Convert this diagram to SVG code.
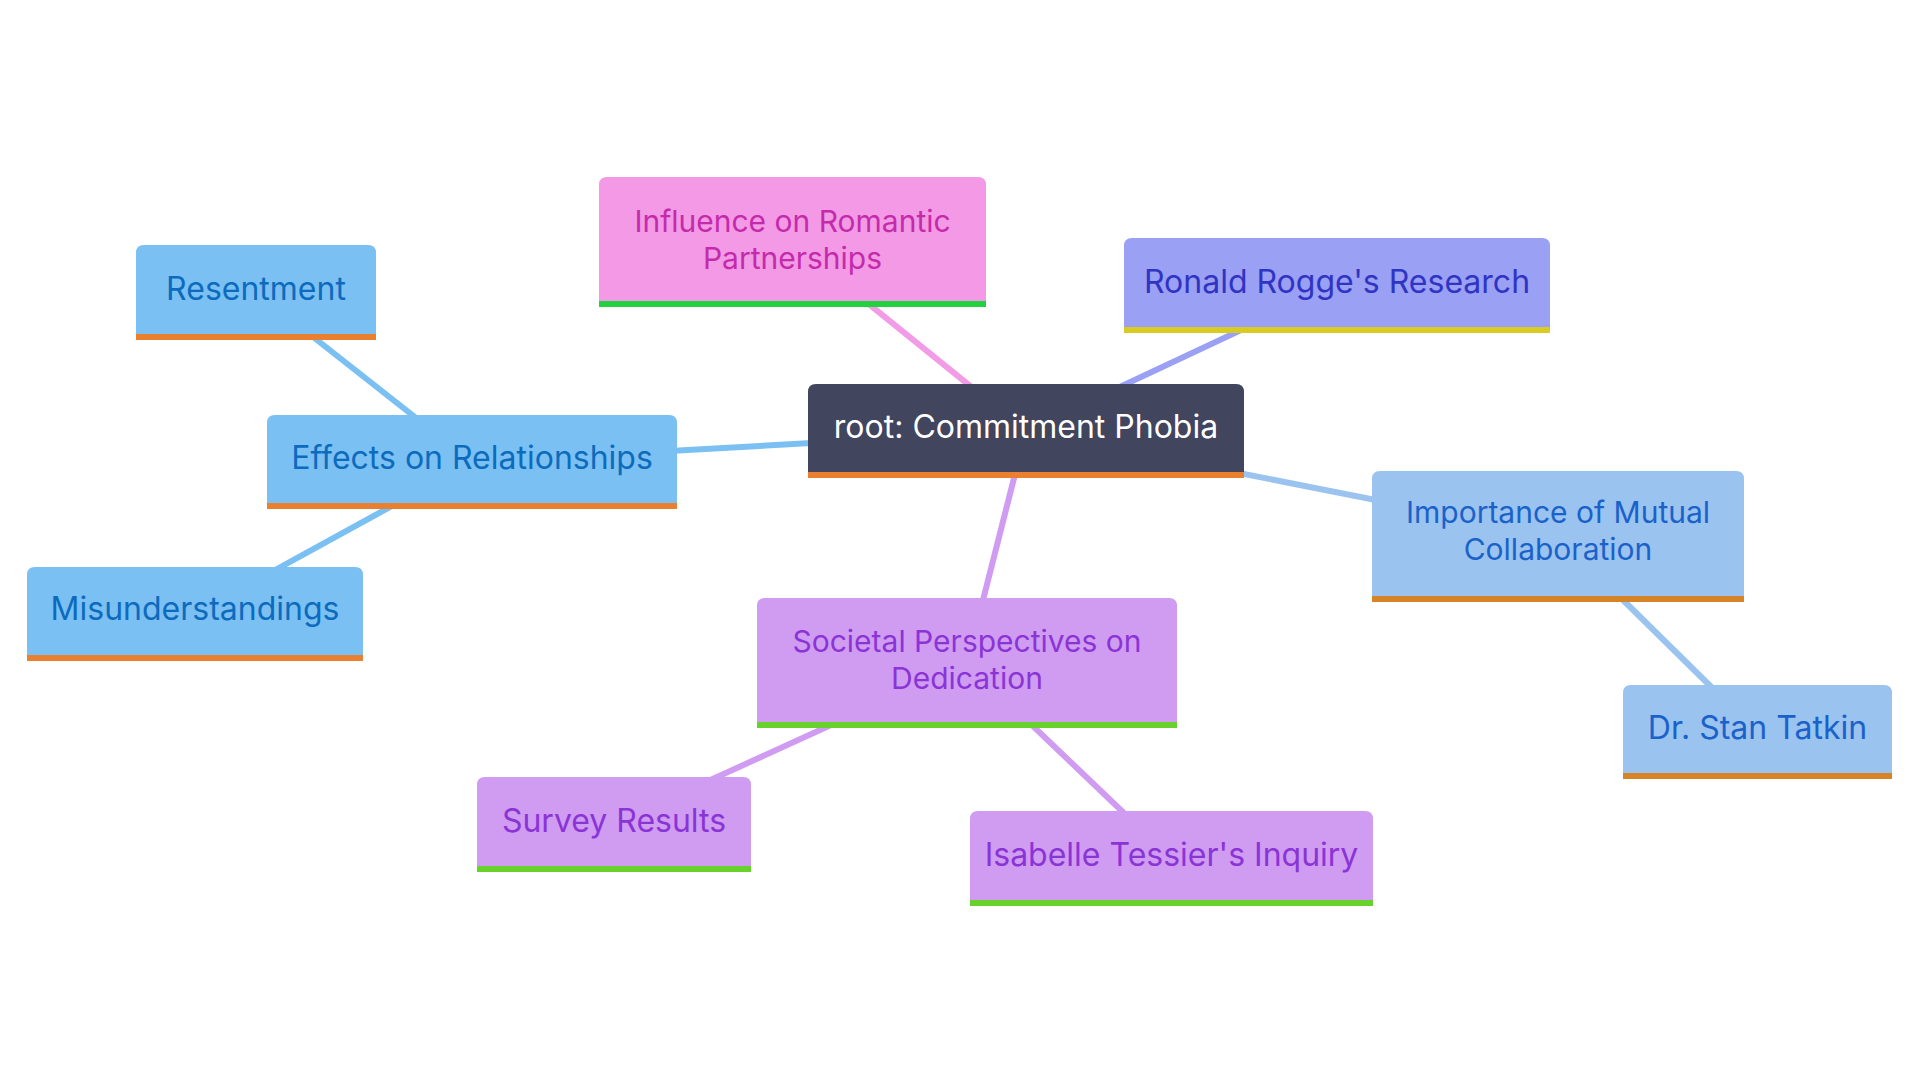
<svg xmlns="http://www.w3.org/2000/svg" width="1920" height="1080" viewBox="0 0 1920 1080">
<style>
.t{font-family:Inter,"Noto Sans","Liberation Sans",sans-serif;font-size:32px;text-anchor:middle}
.t2{font-size:30px}
.e{fill:none;stroke-width:6;stroke-linecap:butt}
</style>
<rect width="1920" height="1080" fill="#ffffff"/>
<g id="connectors">
<line class="e" x1="1026" y1="431" x2="472" y2="462" stroke="#7bc0f3"/>
<line class="e" x1="472" y1="462" x2="256" y2="292" stroke="#7bc0f3"/>
<line class="e" x1="472" y1="462" x2="195" y2="614" stroke="#7bc0f3"/>
<line class="e" x1="1026" y1="431" x2="792" y2="242" stroke="#f29be6"/>
<line class="e" x1="1026" y1="431" x2="1337" y2="285" stroke="#9aa0f3"/>
<line class="e" x1="1026" y1="431" x2="1558" y2="536" stroke="#9ac3f0"/>
<line class="e" x1="1558" y1="536" x2="1757" y2="732" stroke="#9ac3f0"/>
<line class="e" x1="1026" y1="431" x2="967" y2="663" stroke="#cf9cf2"/>
<line class="e" x1="967" y1="663" x2="614" y2="824" stroke="#cf9cf2"/>
<line class="e" x1="967" y1="663" x2="1171" y2="858" stroke="#cf9cf2"/>
</g>
<g id="root">
<path d="M808,478 V392 Q808,384 816,384 H1236 Q1244,384 1244,392 V478 Z" fill="#41455e"/>
<rect x="808" y="472" width="436" height="6" fill="#e8802f"/>
<text class="t" x="1026" y="438" fill="#ffffff">root: Commitment Phobia</text>
</g>
<g id="influence">
<path d="M599,307 V185 Q599,177 607,177 H978 Q986,177 986,185 V307 Z" fill="#f399e6"/>
<rect x="599" y="301" width="387" height="6" fill="#22d13f"/>
<text class="t t2" x="792.5" y="232" fill="#c42bab">Influence on Romantic</text>
<text class="t t2" x="792.5" y="269" fill="#c42bab">Partnerships</text>
</g>
<g id="ronald">
<path d="M1124,333 V246 Q1124,238 1132,238 H1542 Q1550,238 1550,246 V333 Z" fill="#9aa0f3"/>
<rect x="1124" y="327" width="426" height="6" fill="#d8cc22"/>
<text class="t" x="1337" y="293" fill="#3034c4">Ronald Rogge's Research</text>
</g>
<g id="resentment">
<path d="M136,340 V253 Q136,245 144,245 H368 Q376,245 376,253 V340 Z" fill="#7bc0f3"/>
<rect x="136" y="334" width="240" height="6" fill="#e8802f"/>
<text class="t" x="256" y="300" fill="#0d6bbd">Resentment</text>
</g>
<g id="effects">
<path d="M267,509 V423 Q267,415 275,415 H669 Q677,415 677,423 V509 Z" fill="#7bc0f3"/>
<rect x="267" y="503" width="410" height="6" fill="#e8802f"/>
<text class="t" x="472" y="469" fill="#0d6bbd">Effects on Relationships</text>
</g>
<g id="misunderstandings">
<path d="M27,661 V575 Q27,567 35,567 H355 Q363,567 363,575 V661 Z" fill="#7bc0f3"/>
<rect x="27" y="655" width="336" height="6" fill="#e8802f"/>
<text class="t" x="195" y="620" fill="#0d6bbd">Misunderstandings</text>
</g>
<g id="importance">
<path d="M1372,602 V479 Q1372,471 1380,471 H1736 Q1744,471 1744,479 V602 Z" fill="#9ac3f0"/>
<rect x="1372" y="596" width="372" height="6" fill="#d78426"/>
<text class="t t2" x="1558" y="523" fill="#1a62c9">Importance of Mutual</text>
<text class="t t2" x="1558" y="560" fill="#1a62c9">Collaboration</text>
</g>
<g id="tatkin">
<path d="M1623,779 V693 Q1623,685 1631,685 H1884 Q1892,685 1892,693 V779 Z" fill="#9ac3f0"/>
<rect x="1623" y="773" width="269" height="6" fill="#d78426"/>
<text class="t" x="1757.5" y="739" fill="#1a62c9">Dr. Stan Tatkin</text>
</g>
<g id="societal">
<path d="M757,728 V606 Q757,598 765,598 H1169 Q1177,598 1177,606 V728 Z" fill="#cf9cf2"/>
<rect x="757" y="722" width="420" height="6" fill="#68d12b"/>
<text class="t t2" x="967" y="652" fill="#8b34d6">Societal Perspectives on</text>
<text class="t t2" x="967" y="689" fill="#8b34d6">Dedication</text>
</g>
<g id="survey">
<path d="M477,872 V785 Q477,777 485,777 H743 Q751,777 751,785 V872 Z" fill="#cf9cf2"/>
<rect x="477" y="866" width="274" height="6" fill="#68d12b"/>
<text class="t" x="614" y="832" fill="#8b34d6">Survey Results</text>
</g>
<g id="isabelle">
<path d="M970,906 V819 Q970,811 978,811 H1365 Q1373,811 1373,819 V906 Z" fill="#cf9cf2"/>
<rect x="970" y="900" width="403" height="6" fill="#68d12b"/>
<text class="t" x="1171.5" y="866" fill="#8b34d6">Isabelle Tessier's Inquiry</text>
</g>
</svg>
